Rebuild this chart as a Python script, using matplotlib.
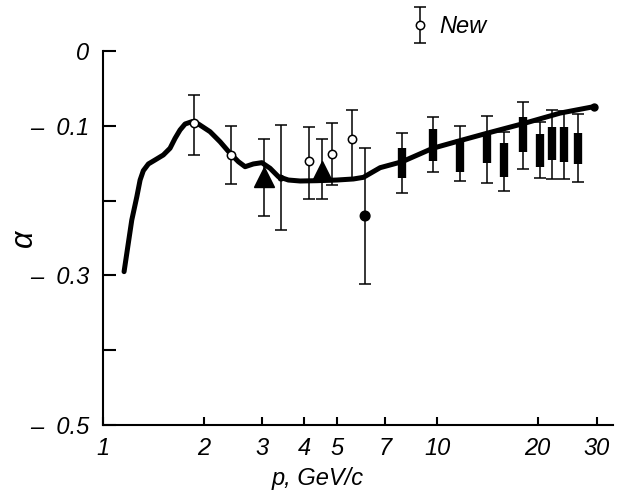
import numpy as np
import matplotlib
matplotlib.use('Agg')
import matplotlib.pyplot as plt
from matplotlib.legend_handler import HandlerErrorbar

plt.rcParams['font.family'] = ['Liberation Sans Narrow', 'Liberation Sans', 'DejaVu Sans']
plt.rcParams['font.style'] = 'italic'

# smooth curve
curve_p = [1.156, 1.219, 1.262, 1.291, 1.320, 1.367, 1.431, 1.515, 1.587, 1.643,
           1.700, 1.760, 1.844, 1.929, 2.091, 2.240, 2.400, 2.542, 2.662, 2.818,
           2.987, 3.162, 3.349, 3.587, 3.889, 4.364, 5.009, 5.617, 6.017, 6.751,
           7.858, 9.71, 11.46, 14.09, 18.13, 23.35, 29.38]
curve_a = [-0.295, -0.226, -0.195, -0.1725, -0.160, -0.151, -0.1457, -0.139, -0.130, -0.1167,
           -0.1056, -0.0976, -0.0945, -0.0976, -0.1079, -0.1213, -0.1368, -0.148, -0.1547, -0.151,
           -0.1493, -0.1568, -0.168, -0.1725, -0.1738, -0.1734, -0.1725, -0.1711, -0.1689, -0.156,
           -0.148, -0.130, -0.121, -0.110, -0.097, -0.083, -0.0745]

# new data (open circles)
new_p = [1.873, 2.416, 4.139, 4.849, 5.567]
new_a = [-0.0959, -0.139, -0.1467, -0.1377, -0.118]
new_hi = [-0.0584, -0.0999, -0.1016, -0.0963, -0.0793]
new_lo = [-0.139, -0.178, -0.198, -0.1795, -0.170]

# triangles
tri_p = [3.041, 4.517]
tri_a = [-0.169, -0.161]
tri_hi = [-0.117, -0.117]
tri_lo = [-0.2206, -0.198]

# filled circles
dot_p = [3.41, 6.087]
dot_a = [-0.170, -0.2206]
dot_hi = [-0.0996, -0.1297]
dot_lo = [-0.239, -0.3115]
dot_size = [4, 7]

# boxes with error bars
box_p = [7.842, 9.71, 11.72, 14.09, 15.87, 18.13, 20.34, 22.10, 24.0, 26.38]
box_top = [-0.130, -0.1047, -0.1176, -0.111, -0.1226, -0.0878, -0.111, -0.1012, -0.1012, -0.1092]
box_bot = [-0.170, -0.1467, -0.1614, -0.1493, -0.168, -0.1346, -0.1555, -0.1457, -0.148, -0.151]
box_hi = [-0.109, -0.0886, -0.1003, -0.0865, -0.1087, -0.0678, -0.0945, -0.0789, -0.0798, -0.0846]
box_lo = [-0.190, -0.1614, -0.1734, -0.1769, -0.1872, -0.1582, -0.1694, -0.1711, -0.1715, -0.1747]

fig = plt.figure(figsize=(6.17, 4.98), dpi=100)
ax = fig.add_axes([0.167, 0.1466, 0.8265, 0.751])

ax.plot(curve_p, curve_a, color='black', lw=3.6, solid_capstyle='round',
        solid_joinstyle='round', zorder=3)
ax.plot(curve_p[-1], curve_a[-1], 'o', color='black', ms=5, zorder=3)

def yerr(a, hi, lo):
    a = np.array(a)
    return [a - np.array(lo), np.array(hi) - a]

ebkw = dict(ls='none', ecolor='black', elinewidth=1.1, capsize=4.3, capthick=1.1)

bmid = (np.array(box_top) + np.array(box_bot)) / 2
ax.errorbar(box_p, bmid, yerr=yerr(bmid, box_hi, box_lo), fmt='none', zorder=2, **ebkw)
ax.vlines(box_p, box_bot, box_top, color='black', lw=6, zorder=4)

ax.errorbar(dot_p, dot_a, yerr=yerr(dot_a, dot_hi, dot_lo), fmt='none', zorder=2, **ebkw)
ax.scatter(dot_p, dot_a, s=np.array(dot_size) ** 2, color='black', zorder=5)

ax.errorbar(tri_p, tri_a, yerr=yerr(tri_a, tri_hi, tri_lo), fmt='^', color='black',
            ms=14, zorder=5, **ebkw)

new = ax.errorbar(new_p, new_a, yerr=yerr(new_a, new_hi, new_lo), fmt='o', mfc='white',
                  mec='black', mew=1.1, ms=6, zorder=6, label='New', **ebkw)

ax.set_xscale('log')
ax.set_xlim(1, 33.6)
ax.set_ylim(-0.5, 0)

xt = [1, 2, 3, 4, 5, 7, 10, 20, 30]
ax.set_xticks(xt)
ax.set_xticklabels([str(v) for v in xt])
ax.xaxis.set_minor_locator(matplotlib.ticker.NullLocator())
yt = [-0.5, -0.4, -0.3, -0.2, -0.1, 0]
ax.set_yticks(yt)
ax.set_yticklabels(['–  0.5', '', '–  0.3', '', '–  0.1', '0'])

for s in ['top', 'right']:
    ax.spines[s].set_visible(False)
for s in ['left', 'bottom']:
    ax.spines[s].set_linewidth(1.5)
ax.tick_params(axis='y', direction='in', length=9.5, width=1.5, labelsize=17, pad=10)
ax.tick_params(axis='x', direction='in', length=6, width=1.5, labelsize=17, pad=9)

ax.set_xlabel('p, GeV/c', fontsize=17, va='center')
ax.xaxis.set_label_coords(0.42, -0.142)
ax.set_ylabel('α', fontsize=22, va='center')
ax.yaxis.set_label_coords(-0.155, 0.5)

fig.legend(handles=[new], labels=['New'], loc='center left',
           bbox_to_anchor=(0.647, 0.946), frameon=False, fontsize=17,
           handlelength=0.8, handletextpad=0.4, borderpad=0,
           handler_map={type(new): HandlerErrorbar(yerr_size=0.75)})

fig.savefig('out.png', dpi=100)
